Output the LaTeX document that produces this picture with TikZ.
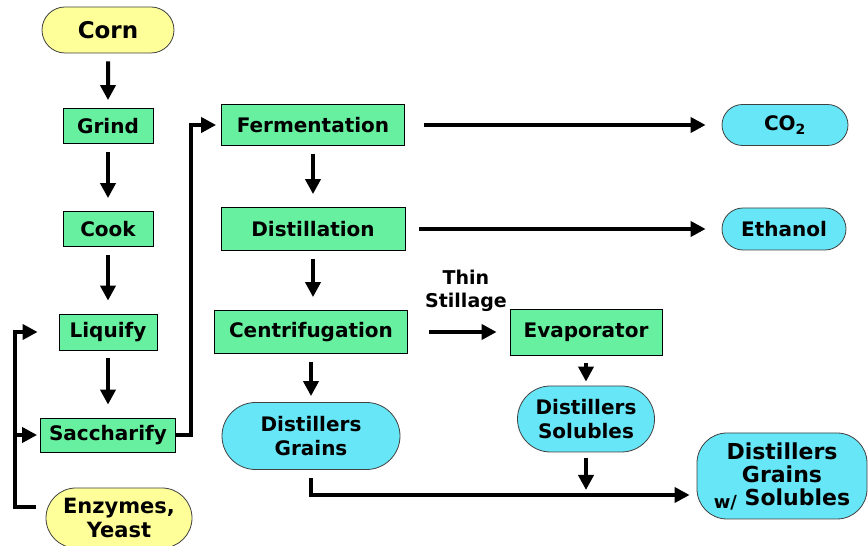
\documentclass[tikz,border=0pt]{standalone}
\usepackage{fontspec}
\setmainfont{DejaVu Sans}
\usepackage{xcolor}
\usepackage{tikz}
\usetikzlibrary{arrows.meta,shapes.misc}

\definecolor{stepgreen}{HTML}{66F0A0}
\definecolor{feedyellow}{HTML}{FFFF99}
\definecolor{outcyan}{HTML}{66E6F6}

\begin{document}
\begin{tikzpicture}[x=1pt, y=1pt,
  every node/.style={font=\fontsize{20}{24}\selectfont\bfseries, align=center, inner sep=0pt},
  stepbox/.style={draw=black, line width=0.8pt, fill=stepgreen, minimum height=35pt},
  feedbox/.style={rounded rectangle, draw=black!75, line width=0.8pt, fill=feedyellow},
  outbox/.style={rounded rectangle, draw=black!75, line width=0.8pt, fill=outcyan},
  flow/.style={line width=4pt, -{Triangle[length=15pt,width=15pt]}, shorten <=8pt, shorten >=13pt}]
  \useasboundingbox (0,0) rectangle (868,546);

  % left column
  \node[feedbox, minimum width=132pt, minimum height=46pt, font=\fontsize{23}{26}\selectfont\bfseries] (corn) at (108,516) {Corn};
  \node[stepbox, minimum width=90pt] (grind) at (108,420) {Grind};
  \node[stepbox, minimum width=90pt] (cook) at (108,317) {Cook};
  \node[stepbox, minimum width=98pt, minimum height=36pt] (liq) at (108,214) {Liquify};
  \node[stepbox, minimum width=135pt, minimum height=34pt] (sac) at (108,111) {Saccharify};
  \node[feedbox, minimum width=146pt, minimum height=60pt, font=\fontsize{21}{24}\selectfont\bfseries] (enz) at (119,28) {Enzymes,\\Yeast};

  % middle column
  \node[stepbox, minimum width=183pt, minimum height=41pt] (ferm) at (313,421) {Fermentation};
  \node[stepbox, minimum width=184pt, minimum height=43pt] (dist) at (313,317) {Distillation};
  \node[stepbox, minimum width=193pt, minimum height=43pt] (cent) at (311,214) {Centrifugation};
  \node[outbox, minimum width=178pt, minimum height=67pt] (dg) at (311,110) {Distillers\\Grains};

  % right side
  \node[stepbox, minimum width=152pt, minimum height=46pt] (evap) at (586,214) {Evaporator};
  \node[outbox, minimum width=137pt, minimum height=66pt] (ds) at (586,127) {Distillers\\Solubles};
  \node[outbox, minimum width=126pt, minimum height=41pt] (co2) at (785,421) {CO\textsubscript{2}};
  \node[outbox, minimum width=124pt, minimum height=42pt] (eth) at (784,317) {Ethanol};
  \node[draw=black!75, line width=0.8pt, fill=outcyan, rounded corners=30pt,
        minimum width=170pt, minimum height=86pt, font=\fontsize{22}{23}\selectfont\bfseries] (dgs) at (782,70)
        {Distillers\\Grains\\\raisebox{-3pt}{\fontsize{18}{20}\selectfont w/} Solubles};
  \node[font=\fontsize{19}{23}\selectfont\bfseries] (thin) at (466,255) {Thin\\Stillage};
  \coordinate (merge) at (586,51);

  \path[flow]
  (corn) edge [shorten >=8pt] (grind)
  (grind) edge (cook)
  (cook) edge (liq)
  (liq) edge (sac)
  (ferm) edge (dist)
  (dist) edge (dist |- cent.north)
  (cent) edge [shorten >=6pt] (dg)
  (evap) edge [shorten >=4pt] (ds)
  (ds) edge [shorten <=6pt, shorten >=5pt] (merge)
  (ferm) edge [shorten <=19pt, shorten >=16pt] (co2)
  (dist) edge [shorten <=14pt, shorten >=16pt] (eth)
  (cent) edge [shorten <=21pt, shorten >=13pt] (evap)
  ;
  % enzymes feed back into liquify and saccharify
  \draw[flow, shorten <=10pt, shorten >=21pt] ([yshift=11pt]enz.west) -| ([xshift=-44pt]liq.west) -- (liq.west);
  \draw[flow, shorten <=0pt, shorten >=3pt] ([xshift=-44pt]liq.west |- sac.west) -- (sac.west);
  \draw[flow, shorten <=0pt, shorten >=5pt] (sac.east) -- ++(15,0) |- (ferm.west);
  \draw[flow, shorten >=7pt] (dg.south) |- (merge -| dgs.west);
\end{tikzpicture}
\end{document}
